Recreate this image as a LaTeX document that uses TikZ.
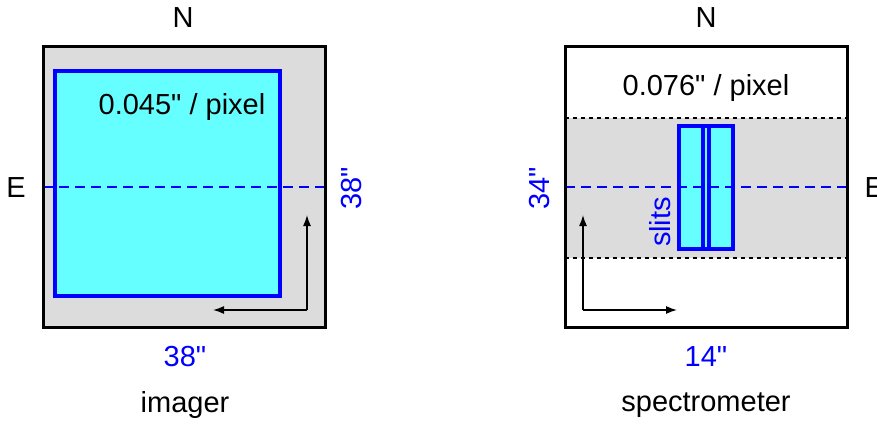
\documentclass[tikz,border=0pt]{standalone}
\usepackage{fontspec}
\setmainfont{Liberation Sans}[Ligatures=TeXOff]
\definecolor{panelgray}{RGB}{220,220,220}
\definecolor{chipcyan}{RGB}{102,255,255}
\tikzset{
  frame/.style={draw=black,line width=3pt},
  chip/.style={draw=blue,fill=chipcyan,line width=3.2pt},
  axis/.style={blue,line width=2.2pt,dash pattern=on 10pt off 6pt},
  band/.style={black,line width=2pt,dash pattern=on 4pt off 4pt},
  lbl/.style={font=\fontsize{29}{33}\selectfont},
  dim/.style={lbl,text=blue},
  dir/.style={-{Latex[length=11pt,width=8pt]},line width=1.4pt}
}
\usetikzlibrary{arrows.meta}
\begin{document}
\begin{tikzpicture}[x=1pt,y=-1pt]
\useasboundingbox (0,0) rectangle (877,423);
% imager
\fill[panelgray] (43,46) rectangle (325,327);
\draw[chip] (55,71) rectangle (280,296);
\draw[axis] (43,187)--(325,187);
\draw[frame] (43,46) rectangle (325,327);
\node[lbl] (iN) at (183,18) {N};
\node[lbl] (iE) at (16,188) {E};
\node[lbl] (iscale) at (182,107) {0.045" / pixel};
\node[dim,rotate=90] (iy) at (352,188) {38"};
\node[dim] (ix) at (185,357) {38"};
\node[lbl] (iname) at (185,405) {imager};
\coordinate (ic) at (307,310);
\draw[dir] (ic)--(307,215) coordinate (iup);
\draw[dir] (ic)--(213,310) coordinate (ileft);
% spectrometer
\fill[white] (565,46) rectangle (847,327);
\fill[panelgray] (565,118) rectangle (847,258);
\draw[band] (565,118)--(847,118);
\draw[band] (565,258)--(847,258);
\fill[chipcyan] (679,126) rectangle (733,249);
\draw[chip,fill=none] (679,126) rectangle (709,249);
\draw[chip,fill=none] (703,126) rectangle (733,249);
\draw[axis] (565,187)--(847,187);
\draw[frame] (565,46) rectangle (847,327);
\node[lbl] (sN) at (706,18) {N};
\node[lbl,anchor=west] (sE) at (861,188) {E};
\node[lbl] (sscale) at (706,88) {0.076" / pixel};
\node[dim,rotate=90] (sy) at (540,188) {34"};
\node[dim,rotate=90] (slit) at (660,222) {slits};
\node[dim] (sx) at (706,357) {14"};
\node[lbl] (sname) at (706,405) {spectrometer};
\coordinate (sc) at (583,310);
\draw[dir] (sc)--(583,215) coordinate (sup);
\draw[dir] (sc)--(677,310) coordinate (sright);
\end{tikzpicture}
\end{document}
